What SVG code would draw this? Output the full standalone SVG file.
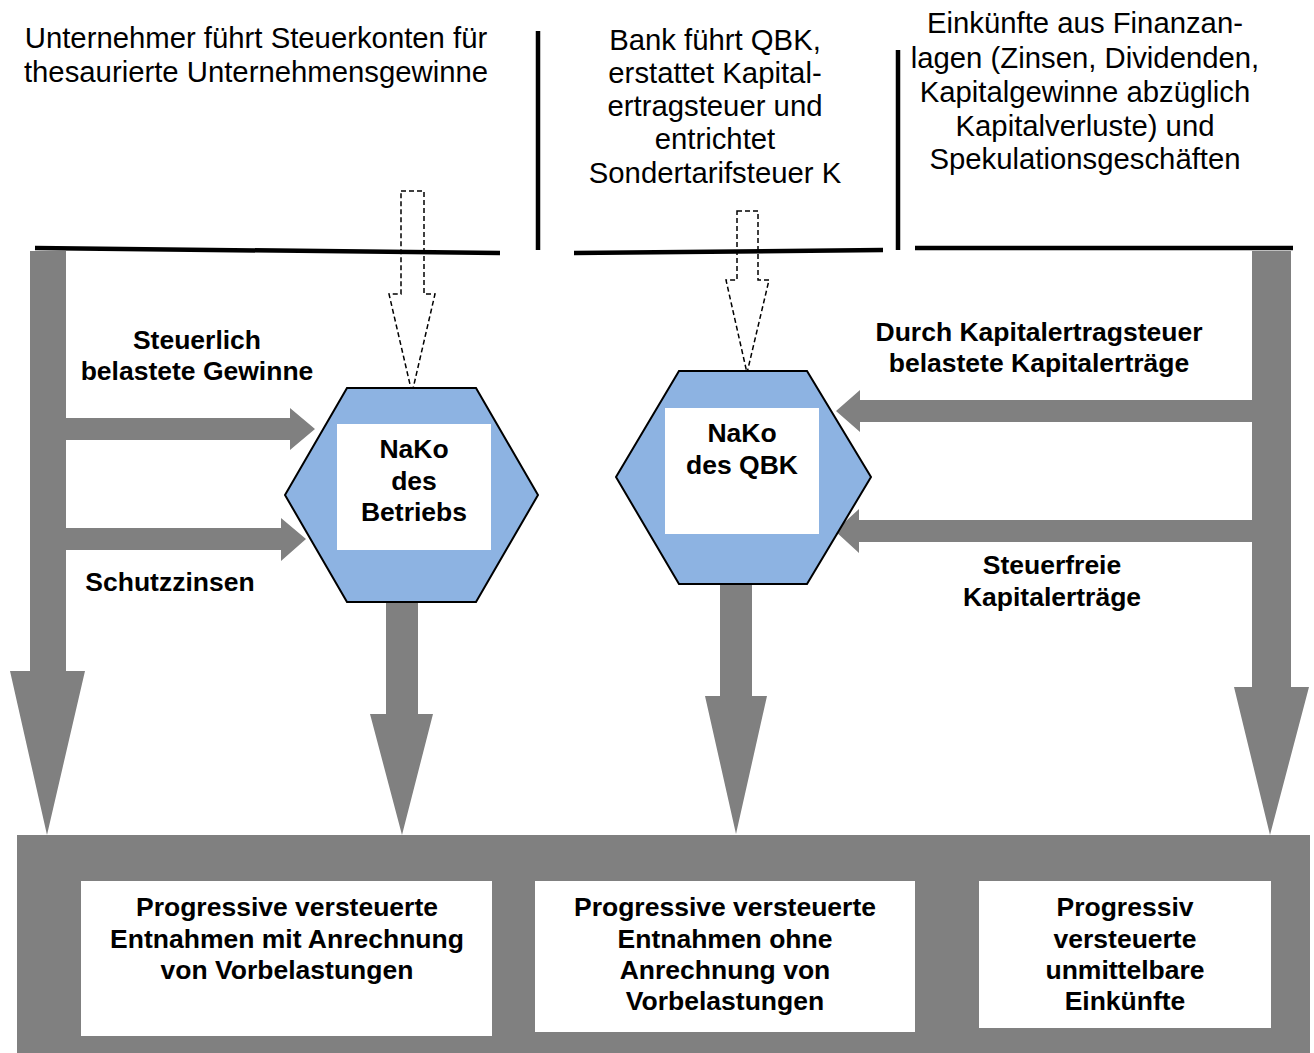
<svg xmlns="http://www.w3.org/2000/svg" width="1314" height="1053" viewBox="0 0 1314 1053">
<style>
.reg{font-family:"Liberation Sans",Arial,sans-serif;font-size:29.3px;fill:#000;text-anchor:middle}
.b{font-family:"Liberation Sans",Arial,sans-serif;font-size:26.5px;font-weight:bold;fill:#000;text-anchor:middle}
.g{fill:#808080;stroke:none}
.hex{fill:#8db3e2;stroke:#000;stroke-width:2}
.wb{fill:#fff;stroke:none}
.dash{fill:#fff;stroke:#000;stroke-width:1.5;stroke-dasharray:5 3}
.ln{stroke:#000;stroke-width:4.5;fill:none}
</style>
<rect width="1314" height="1053" fill="#fff"/>

<g id="connectors">
  <polygon id="dashed-arrow-1" class="dash" points="401,191 424,191 424,294 435,294 412,393 389,294 401,294"/>
  <polygon id="dashed-arrow-2" class="dash" points="737,211 758,211 758,280 769,280 747,373 726,280 737,280"/>
  <polygon id="left-flow" class="g" points="30,251 66,251 66,418 290,418 290,408 315,429 290,450 290,440 66,440 66,528 281,528 281,518 306,539 281,561 281,550 66,550 66,671 85,671 47,835 10,671 30,671"/>
  <polygon id="right-flow" class="g" points="1252,251 1291,251 1291,687 1309,687 1270,835 1234,687 1252,687 1252,542 859,542 859,553 835,531 859,509 859,520 1252,520 1252,422 860,422 860,432 836,411 860,390 860,400 1252,400"/>
  <polygon id="hex1-down" class="g" points="386,602 418,602 418,714 433,714 402,835 370,714 386,714"/>
  <polygon id="hex2-down" class="g" points="720,584 752,584 752,696 767,696 736,834 705,696 720,696"/>
</g>

<g id="separators">
  <line class="ln" x1="35" y1="248" x2="500" y2="253"/>
  <line class="ln" x1="574" y1="253" x2="883" y2="250"/>
  <line class="ln" x1="915" y1="248" x2="1293" y2="248"/>
  <line class="ln" x1="538" y1="31" x2="538" y2="250"/>
  <line class="ln" x1="898" y1="50" x2="898" y2="250"/>
</g>

<g id="header-left">
  <text class="reg" x="256" y="48">Unternehmer führt Steuerkonten für</text>
  <text class="reg" x="256" y="82">thesaurierte Unternehmensgewinne</text>
</g>
<g id="header-middle">
  <text class="reg" x="715" y="50">Bank führt QBK,</text>
  <text class="reg" x="715" y="83">erstattet Kapital-</text>
  <text class="reg" x="715" y="116">ertragsteuer und</text>
  <text class="reg" x="715" y="149">entrichtet</text>
  <text class="reg" x="715" y="183">Sondertarifsteuer K</text>
</g>
<g id="header-right">
  <text class="reg" x="1085" y="33">Einkünfte aus Finanzan-</text>
  <text class="reg" x="1085" y="68">lagen (Zinsen, Dividenden,</text>
  <text class="reg" x="1085" y="102">Kapitalgewinne abzüglich</text>
  <text class="reg" x="1085" y="136">Kapitalverluste) und</text>
  <text class="reg" x="1085" y="169">Spekulationsgeschäften</text>
</g>

<g id="labels">
  <text class="b" x="197" y="349">Steuerlich</text>
  <text class="b" x="197" y="380">belastete Gewinne</text>
  <text class="b" x="170" y="591">Schutzzinsen</text>
  <text class="b" x="1039" y="341">Durch Kapitalertragsteuer</text>
  <text class="b" x="1039" y="372">belastete Kapitalerträge</text>
  <text class="b" x="1052" y="574">Steuerfreie</text>
  <text class="b" x="1052" y="606">Kapitalerträge</text>
</g>

<g id="node-nako-betrieb">
  <polygon class="hex" points="347,388 476,388 538,495 476,602 347,602 285,495"/>
  <rect class="wb" x="337" y="424" width="154" height="126"/>
  <text class="b" x="414" y="458">NaKo</text>
  <text class="b" x="414" y="490">des</text>
  <text class="b" x="414" y="521">Betriebs</text>
</g>

<g id="node-nako-qbk">
  <polygon class="hex" points="679,371 807,371 871,477 807,584 679,584 616,477"/>
  <rect class="wb" x="665" y="408" width="154" height="126"/>
  <text class="b" x="742" y="442">NaKo</text>
  <text class="b" x="742" y="474">des QBK</text>
</g>

<g id="bottom-panel">
  <rect class="g" x="17" y="835" width="1293" height="218"/>
</g>
<g id="node-box1">
  <rect class="wb" x="81" y="881" width="411" height="155"/>
  <text class="b" x="287" y="916">Progressive versteuerte</text>
  <text class="b" x="287" y="948">Entnahmen mit Anrechnung</text>
  <text class="b" x="287" y="979">von Vorbelastungen</text>
</g>
<g id="node-box2">
  <rect class="wb" x="535" y="881" width="380" height="151"/>
  <text class="b" x="725" y="916">Progressive versteuerte</text>
  <text class="b" x="725" y="948">Entnahmen ohne</text>
  <text class="b" x="725" y="979">Anrechnung von</text>
  <text class="b" x="725" y="1010">Vorbelastungen</text>
</g>
<g id="node-box3">
  <rect class="wb" x="979" y="881" width="292" height="147"/>
  <text class="b" x="1125" y="916">Progressiv</text>
  <text class="b" x="1125" y="948">versteuerte</text>
  <text class="b" x="1125" y="979">unmittelbare</text>
  <text class="b" x="1125" y="1010">Einkünfte</text>
</g>
</svg>
